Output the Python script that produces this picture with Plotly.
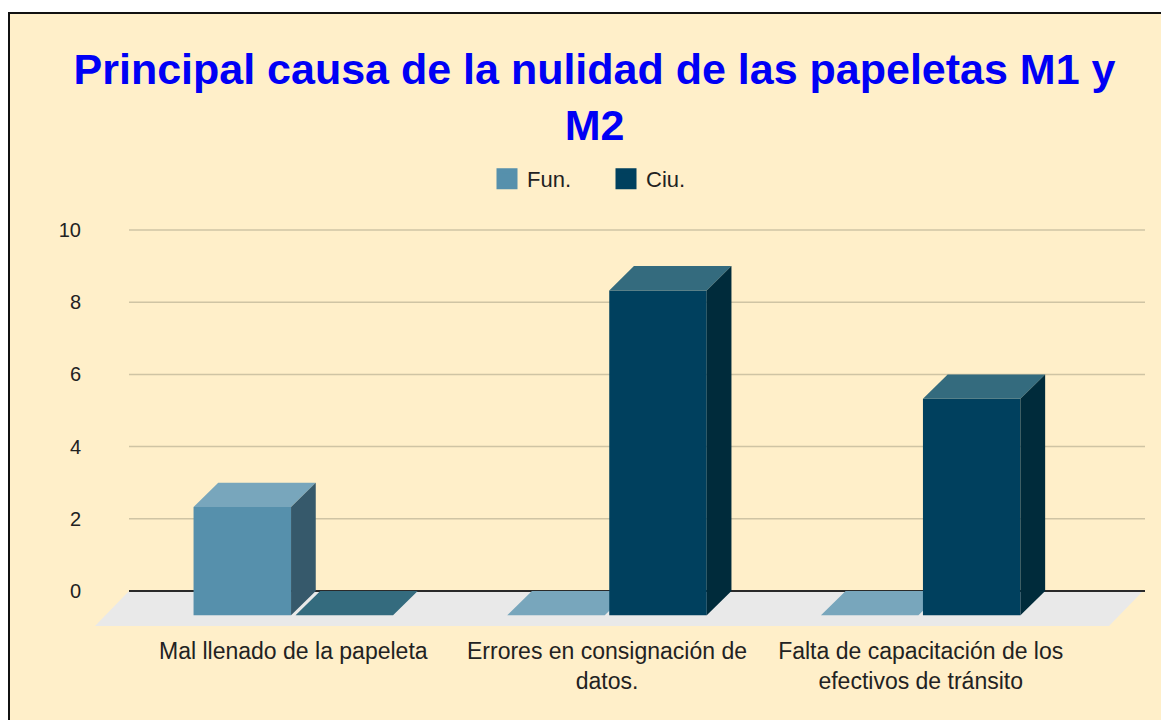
import plotly.graph_objects as go

# ---------------- data ----------------
categories = [
    "Mal llenado de la papeleta",
    "Errores en consignación de datos.",
    "Falta de capacitación de los efectivos de tránsito",
]
tick_labels = [
    "Mal llenado de la papeleta",
    "Errores en consignación de<br>datos.",
    "Falta de capacitación de los<br>efectivos de tránsito",
]
fun_values = [3, 0, 0]
ciu_values = [0, 9, 6]
series_names = ["Fun.", "Ciu."]
y_ticks = [0, 2, 4, 6, 8, 10]
title_text = "Principal causa de la nulidad de las papeletas M1 y<br>M2"

# ---------------- style ----------------
OFF = 8                      # page body margin
SCR_W, SCR_H = 1169, 720
W, H = SCR_W - OFF, SCR_H - OFF
PLOT_L_S, PLOT_R_S, PLOT_T_S, PLOT_B_S = 90, 1145, 220, 630   # screen px
M_L, M_R = PLOT_L_S - OFF, SCR_W - PLOT_R_S
M_T, M_B = PLOT_T_S - OFF, SCR_H - PLOT_B_S
PX_PER_Y = 36.1
PX_PER_X = 313.7
Y0_PX = 591
CAT0_PX = 293.3
plot_w = W - M_L - M_R
plot_h = H - M_T - M_B
y_range = [-(PLOT_B_S - Y0_PX) / PX_PER_Y, (Y0_PX - PLOT_T_S) / PX_PER_Y]
x_range = [(PLOT_L_S - CAT0_PX) / PX_PER_X, (PLOT_R_S - CAT0_PX) / PX_PER_X]
BAR_W = 97.5 / PX_PER_X
BAR_GAP = 4.5 / PX_PER_X
DX = 24.7 / PX_PER_X
DY = 24.3 / PX_PER_Y
FLOOR_L = (129 - CAT0_PX) / PX_PER_X
FLOOR_R = (1143 - CAT0_PX) / PX_PER_X
FLOOR_DX = 34 / PX_PER_X
FLOOR_DY = 35 / PX_PER_Y

BG = "#FFEFC9"
GRID = "#CFC4A4"
FONT = "Liberation Sans, Arial, sans-serif"
TXT = "#222222"
colors = {
    "Fun.": {"front": "#5690AC", "top": "#78A6BC", "side": "#36596B"},
    "Ciu.": {"front": "#00405E", "top": "#346B7E", "side": "#002B3B"},
}


def faces(values, offset):
    fx, fy, tx, ty, sx, sy = [], [], [], [], [], []
    for i, v in enumerate(values):
        xl = i + offset - BAR_W / 2
        xr = xl + BAR_W
        yb = -DY
        yt = v - DY
        fx += [xl, xr, xr, xl, xl, None]
        fy += [yb, yb, yt, yt, yb, None]
        tx += [xl, xr, xr + DX, xl + DX, xl, None]
        ty += [yt, yt, v, v, yt, None]
        sx += [xr, xr + DX, xr + DX, xr, xr, None]
        sy += [yb, 0, v, yt, yb, None]
    return (fx, fy), (tx, ty), (sx, sy)


fig = go.Figure()

offsets = [-(BAR_W + BAR_GAP) / 2, (BAR_W + BAR_GAP) / 2]
for name, vals, off in zip(series_names, [fun_values, ciu_values], offsets):
    front, top, side = faces(vals, off)
    for (xs, ys), key in [(front, "front"), (top, "top"), (side, "side")]:
        fig.add_trace(go.Scatter(
            x=xs, y=ys, mode="lines", fill="toself",
            fillcolor=colors[name][key], line=dict(width=0, color=colors[name][key]),
            hoverinfo="skip", showlegend=False,
        ))

# legend entries
for name in series_names:
    fig.add_trace(go.Scatter(
        x=[None], y=[None], mode="markers", name=name,
        marker=dict(symbol="square", size=16, color=colors[name]["front"],
                    line=dict(width=5, color=colors[name]["front"])),
    ))


def scr_to_paper_x(px):
    return (px - PLOT_L_S) / plot_w


def scr_to_paper_y(py):
    return (PLOT_B_S - py) / plot_h


shapes = []
# chart frame
shapes.append(dict(
    type="rect", xref="paper", yref="paper", layer="below",
    x0=scr_to_paper_x(9), x1=scr_to_paper_x(SCR_W + 10),
    y0=scr_to_paper_y(SCR_H + 10), y1=scr_to_paper_y(13),
    fillcolor=BG, line=dict(color="#111111", width=2),
))
# floor
shapes.append(dict(
    type="path", xref="x", yref="y", layer="below",
    path=(f"M {FLOOR_L} 0 L {FLOOR_R} 0 L {FLOOR_R - FLOOR_DX} {-FLOOR_DY} "
          f"L {FLOOR_L - FLOOR_DX} {-FLOOR_DY} Z"),
    fillcolor="#E9E9E9", line=dict(width=0),
))
# gridlines
for t in y_ticks[1:]:
    shapes.append(dict(
        type="line", xref="x", yref="y", layer="below",
        x0=FLOOR_L, x1=x_range[1], y0=t, y1=t,
        line=dict(color=GRID, width=1.5),
    ))
# baseline
shapes.append(dict(
    type="line", xref="x", yref="y", layer="below",
    x0=FLOOR_L, x1=x_range[1], y0=0, y1=0,
    line=dict(color="#2A2A2A", width=2),
))

fig.update_layout(
    width=W, height=H,
    margin=dict(l=M_L, r=M_R, t=M_T, b=M_B, pad=0),
    paper_bgcolor="white",
    plot_bgcolor="rgba(0,0,0,0)",
    shapes=shapes,
    title=dict(
        text=f"<b>{title_text}</b>",
        font=dict(family=FONT, size=43, color="#0000F5"),
        x=(594.5 - OFF) / W, xref="container", xanchor="center",
        y=1 - 76 / H, yref="container", yanchor="top",
    ),
    legend=dict(
        orientation="h",
        x=(606 - OFF) / W, xref="container", xanchor="center",
        y=1 - (179 - OFF) / H, yref="container", yanchor="middle",
        font=dict(family=FONT, size=22, color=TXT),
        bgcolor="rgba(0,0,0,0)",
        entrywidth=74, entrywidthmode="pixels",
    ),
    xaxis=dict(
        range=x_range, tickmode="array",
        tickvals=list(range(len(categories))), ticktext=tick_labels,
        showgrid=False, zeroline=False, showline=False, ticks="",
        tickfont=dict(family=FONT, size=23, color=TXT),
        ticklabelstandoff=5,
        fixedrange=True,
    ),
    yaxis=dict(
        range=y_range, tickmode="array", tickvals=y_ticks,
        showgrid=False, zeroline=False, showline=False, ticks="",
        tickfont=dict(family=FONT, size=20, color=TXT),
        ticklabelstandoff=8,
        fixedrange=True,
    ),
    font=dict(family=FONT, color=TXT),
)

fig.write_html("out.html")
